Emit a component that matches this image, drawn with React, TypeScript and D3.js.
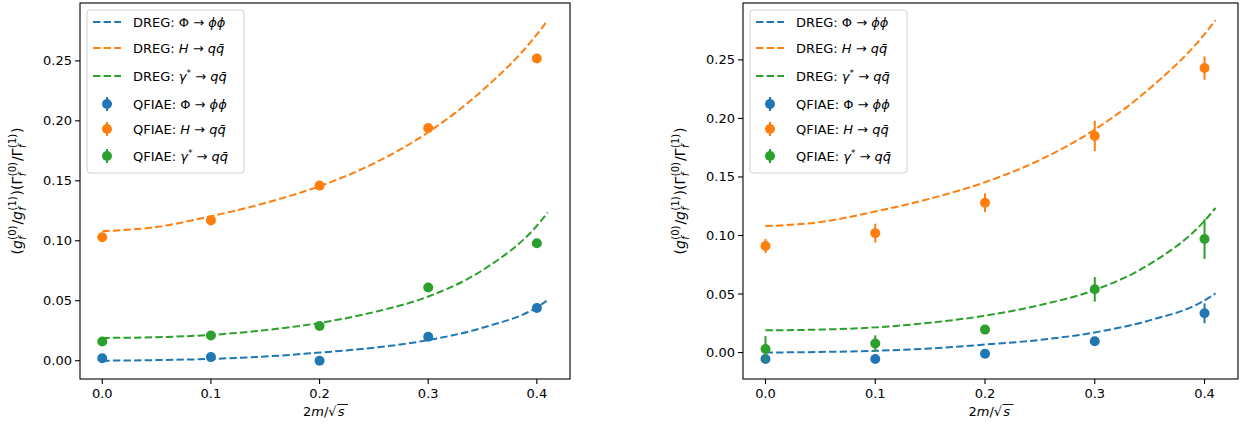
import React from "react";
import * as d3 from "d3";

const COLORS = ["#1f77b4", "#ff7f0e", "#2ca02c"];

// Measured points
const massX = [0, 0.1, 0.2, 0.3, 0.4];
// DREG curves
const curveX = [0, 0.05, 0.1, 0.15, 0.2, 0.25, 0.3, 0.35, 0.4, 0.41];
const dregPhi = [0.0, 0.0005, 0.0015, 0.0035, 0.0068, 0.0108, 0.0172, 0.0275, 0.0445, 0.0505];
const dregH = [0.108, 0.1115, 0.1205, 0.1315, 0.1455, 0.1645, 0.1905, 0.2255, 0.272, 0.284];
const dregGamma = [0.019, 0.0196, 0.0215, 0.0255, 0.0315, 0.0405, 0.0535, 0.0755, 0.1125, 0.1235];

// Left panel QFIAE
const leftPhi = [0.002, 0.003, 0.0, 0.02, 0.044];
const leftPhiErr = [0.001, 0.001, 0.001, 0.001, 0.001];
const leftH = [0.103, 0.117, 0.146, 0.194, 0.252];
const leftHErr = [0.001, 0.001, 0.001, 0.001, 0.001];
const leftGamma = [0.016, 0.021, 0.029, 0.061, 0.098];
const leftGammaErr = [0.001, 0.001, 0.001, 0.001, 0.001];

// Right panel QFIAE
const rightPhi = [-0.0055, -0.0055, -0.001, 0.0096, 0.0335];
const rightPhiErr = [0.0015, 0.001, 0.001, 0.003, 0.0085];
const rightH = [0.091, 0.102, 0.128, 0.185, 0.243];
const rightHErr = [0.006, 0.008, 0.008, 0.013, 0.01];
const rightGamma = [0.003, 0.0077, 0.0196, 0.054, 0.097];
const rightGammaErr = [0.011, 0.007, 0.003, 0.0105, 0.017];

const xTicks = [0, 0.1, 0.2, 0.3, 0.4];
const yTicks = [0, 0.05, 0.1, 0.15, 0.2, 0.25];

const FONT = "DejaVu Sans";
const FS = 13;

type Series = { y: number[]; err: number[] };

function Legend({ x, y }: { x: number; y: number }) {
  const rows = [22, 48, 76, 104, 129, 156].map((r) => r - 10);
  const labelsMath: React.ReactNode[] = [
    <>
      <tspan>Φ → </tspan>
      <tspan fontStyle="italic">ϕϕ</tspan>
    </>,
    <>
      <tspan fontStyle="italic">H</tspan>
      <tspan> → </tspan>
      <tspan fontStyle="italic">q</tspan>
      <tspan fontStyle="italic">q̄</tspan>
    </>,
    <>
      <tspan fontStyle="italic">γ</tspan>
      <tspan fontSize={9} dy={-5}>*</tspan>
      <tspan dy={5}> → </tspan>
      <tspan fontStyle="italic">q</tspan>
      <tspan fontStyle="italic">q̄</tspan>
    </>,
  ];
  return (
    <g transform={`translate(${x},${y})`}>
      <rect x={0} y={0} width={157} height={163} rx={3} fill="white" fillOpacity={0.8} stroke="#d0d0d0" strokeWidth={1} />
      {[0, 1, 2].map((i) => (
        <g key={"l" + i}>
          <line x1={6} x2={34} y1={rows[i]} y2={rows[i]} stroke={COLORS[i]} strokeWidth={2} strokeDasharray="7.4,3.2" />
          <text x={46} y={rows[i] + 5} fontSize={FS} fontFamily={FONT} fill="#000">
            <tspan>DREG: </tspan>
            {labelsMath[i]}
          </text>
        </g>
      ))}
      {[0, 1, 2].map((i) => (
        <g key={"m" + i}>
          <line x1={20} x2={20} y1={rows[i + 3] - 7} y2={rows[i + 3] + 7} stroke={COLORS[i]} strokeWidth={2} />
          <circle cx={20} cy={rows[i + 3]} r={5} fill={COLORS[i]} />
          <text x={46} y={rows[i + 3] + 5} fontSize={FS} fontFamily={FONT} fill="#000">
            <tspan>QFIAE: </tspan>
            {labelsMath[i]}
          </text>
        </g>
      ))}
    </g>
  );
}

function YLabel({ x, y }: { x: number; y: number }) {
  const F = 14;
  const s = 10;
  const supW = 14.2;
  const subW = 3.6;
  const back = supW - subW + 1;
  // segments: text, italic, size, dx, dy
  const segs: [string, boolean, number, number, number][] = [
    ["(", false, F, 0, 0],
    ["g", true, F, 0, 0],
    ["(0)", false, s, 0.5, -6],
    ["f", true, s, -supW, 10],
    ["/", false, F, back, -4],
    ["g", true, F, 0, 0],
    ["(1)", false, s, 0.5, -6],
    ["f", true, s, -supW, 10],
    [")(", false, F, back, -4],
    ["Γ", false, F, 0, 0],
    ["(0)", false, s, 0.5, -6],
    ["f", true, s, -supW, 10],
    ["/", false, F, back, -4],
    ["Γ", false, F, 0, 0],
    ["(1)", false, s, 0.5, -6],
    ["f", true, s, -supW, 10],
    [")", false, F, back, -4],
  ];
  return (
    <text transform={`translate(${x},${y}) rotate(-90)`} textAnchor="middle" fontSize={F} fontFamily={FONT} fill="#000">
      {segs.map(([t, it, sz, dx, dy], i) => (
        <tspan key={i} fontStyle={it ? "italic" : "normal"} fontSize={sz} dx={dx} dy={dy}>
          {t}
        </tspan>
      ))}
    </text>
  );
}

function XLabel({ x, y }: { x: number; y: number }) {
  // 2m/√s centered at x
  const start = x - 22;
  return (
    <g fontFamily={FONT} fontSize={FS} fill="#000">
      <text x={start} y={y}>
        <tspan>2</tspan>
        <tspan fontStyle="italic">m</tspan>
        <tspan>/√</tspan>
        <tspan fontStyle="italic" dx={1}>s</tspan>
      </text>
      <line x1={start + 34} x2={start + 45} y1={y - 11.5} y2={y - 11.5} stroke="#000" strokeWidth={0.9} />
    </g>
  );
}

function Panel({ left, right, top, bottom, series }: { left: number; right: number; top: number; bottom: number; series: Series[] }) {
  const curves = [dregPhi, dregH, dregGamma];
  const xs = [...curveX, ...massX];
  const xmin = d3.min(xs)!, xmax = d3.max(xs)!;
  const xm = (xmax - xmin) * 0.05;
  const ys: number[] = [];
  curves.forEach((c) => ys.push(...c));
  series.forEach((s) => s.y.forEach((v, i) => ys.push(v - s.err[i], v + s.err[i])));
  const ymin = d3.min(ys)!, ymax = d3.max(ys)!;
  const ym = (ymax - ymin) * 0.05;
  const xs_ = d3.scaleLinear().domain([xmin - xm, xmax + xm]).range([left, right]);
  const ys_ = d3.scaleLinear().domain([ymin - ym, ymax + ym]).range([bottom, top]);
  const line = d3
    .line<number>()
    .x((_, i) => xs_(curveX[i]))
    .y((d) => ys_(d))
    .curve(d3.curveMonotoneX);
  return (
    <g>
      {curves.map((c, i) => (
        <path key={"c" + i} d={line(c) || ""} fill="none" stroke={COLORS[i]} strokeWidth={2} strokeDasharray="7.4,3.2" />
      ))}
      {series.map((s, si) => (
        <g key={"s" + si}>
          {s.y.map((v, i) => (
            <g key={i}>
              <line x1={xs_(massX[i])} x2={xs_(massX[i])} y1={ys_(v - s.err[i])} y2={ys_(v + s.err[i])} stroke={COLORS[si]} strokeWidth={2} />
              <circle cx={xs_(massX[i])} cy={ys_(v)} r={5} fill={COLORS[si]} />
            </g>
          ))}
        </g>
      ))}
      <rect x={left} y={top} width={right - left} height={bottom - top} fill="none" stroke="#000" strokeWidth={1.1} />
      {xTicks.map((t) => (
        <g key={"xt" + t}>
          <line x1={xs_(t)} x2={xs_(t)} y1={bottom} y2={bottom + 5} stroke="#000" strokeWidth={1.1} />
          <text x={xs_(t)} y={bottom + 19} textAnchor="middle" fontSize={FS} fontFamily={FONT} fill="#000">
            {t.toFixed(1)}
          </text>
        </g>
      ))}
      {yTicks.map((t) => (
        <g key={"yt" + t}>
          <line x1={left - 5} x2={left} y1={ys_(t)} y2={ys_(t)} stroke="#000" strokeWidth={1.1} />
          <text x={left - 8} y={ys_(t) + 4.5} textAnchor="end" fontSize={FS} fontFamily={FONT} fill="#000">
            {t.toFixed(2)}
          </text>
        </g>
      ))}
      <Legend x={left + 7} y={top + 7} />
      <YLabel x={left - 58} y={(top + bottom) / 2} />
      <XLabel x={(left + right) / 2} y={bottom + 37} />
    </g>
  );
}

export default function App() {
  const leftSeries: Series[] = [
    { y: leftPhi, err: leftPhiErr },
    { y: leftH, err: leftHErr },
    { y: leftGamma, err: leftGammaErr },
  ];
  const rightSeries: Series[] = [
    { y: rightPhi, err: rightPhiErr },
    { y: rightH, err: rightHErr },
    { y: rightGamma, err: rightGammaErr },
  ];
  return (
    <svg width={1251} height={429} style={{ position: "absolute", left: 0, top: 0, background: "white" }}>
      <rect width={1251} height={429} fill="white" />
      <Panel left={80} right={570} top={3} bottom={379} series={leftSeries} />
      <Panel left={743} right={1238} top={3} bottom={379} series={rightSeries} />
    </svg>
  );
}
